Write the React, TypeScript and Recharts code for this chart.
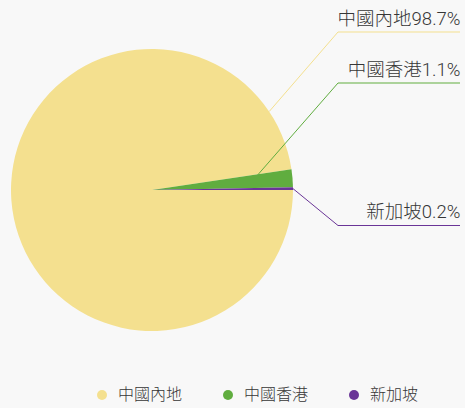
import React from "react";
import { PieChart, Pie, Cell, Legend } from "recharts";

const categories = ["中國內地", "中國香港", "新加坡"];
const shares = [97.65, 2.04, 0.31];
const percentLabels = ["98.7%", "1.1%", "0.2%"];
const colors = ["#f4e08f", "#60ad3f", "#6a3597"];

const data = categories.map((name, i) => ({ name, value: shares[i], pct: percentLabels[i] }));

const FONT = 'Roboto, "Noto Sans CJK TC", "Noto Sans", sans-serif';
const TEXT = "#363636";

// label-line layout (start angle on/inside the pie, radius factor, elbow y)
const labelLayout = [
  { angle: 33.8, rf: 1.0, elbowX: 338, endX: 460, y: 32 },
  { angle: 6.6, rf: 0.735, elbowX: 338, endX: 460, y: 83 },
  { angle: null as number | null, rf: 1.0, elbowX: 338, endX: 460, y: 225.5 },
];

const RAD = Math.PI / 180;

const renderLabel = (props: any) => {
  const { cx, cy, outerRadius, midAngle, index } = props;
  const L = labelLayout[index];
  const ang = L.angle === null ? midAngle : L.angle;
  const r = outerRadius * L.rf;
  const sx = cx + r * Math.cos(ang * RAD);
  const sy = cy - r * Math.sin(ang * RAD);
  const c = colors[index];
  return (
    <g key={`lbl-${index}`}>
      <polyline
        points={`${sx},${sy} ${L.elbowX},${L.y} ${L.endX},${L.y}`}
        fill="none"
        stroke={c}
        strokeWidth={1}
      />
      <text
        x={L.endX + 0.5}
        y={L.y - 7.5}
        textAnchor="end"
        fontFamily={FONT}
        fontSize={18.5}
        fontWeight={300}
        fill={TEXT}
      >
        {data[index].name + data[index].pct}
      </text>
    </g>
  );
};

const renderLegend = () => (
  <div
    style={{
      display: "flex",
      flexDirection: "row",
      alignItems: "center",
      paddingLeft: 97,
      gap: 41,
      fontFamily: FONT,
      fontSize: 16,
      fontWeight: 300,
      color: TEXT,
      lineHeight: "20px",
    }}
  >
    {data.map((d, i) => (
      <div key={d.name} style={{ display: "flex", alignItems: "center" }}>
        <span
          style={{
            display: "inline-block",
            width: 10,
            height: 10,
            borderRadius: 5,
            background: colors[i],
            marginRight: 11,
          }}
        />
        <span>{d.name}</span>
      </div>
    ))}
  </div>
);

export default function App() {
  return (
    <div style={{ position: "absolute", left: 0, top: 0, width: 465, height: 408, background: "#f8f8f8" }}>
      <PieChart width={465} height={408} margin={{ top: 0, right: 0, bottom: 0, left: 0 }}>
        <Pie
          data={data}
          dataKey="value"
          nameKey="name"
          cx={152}
          cy={190}
          outerRadius={141}
          startAngle={360}
          endAngle={0}
          stroke="none"
          label={renderLabel}
          labelLine={false}
          isAnimationActive={false}
        >
          {data.map((d, i) => (
            <Cell key={d.name} fill={colors[i]} />
          ))}
        </Pie>
        <Legend
          content={renderLegend}
          wrapperStyle={{ position: "absolute", left: 0, top: 385, width: 465, height: 20 }}
        />
      </PieChart>
    </div>
  );
}
